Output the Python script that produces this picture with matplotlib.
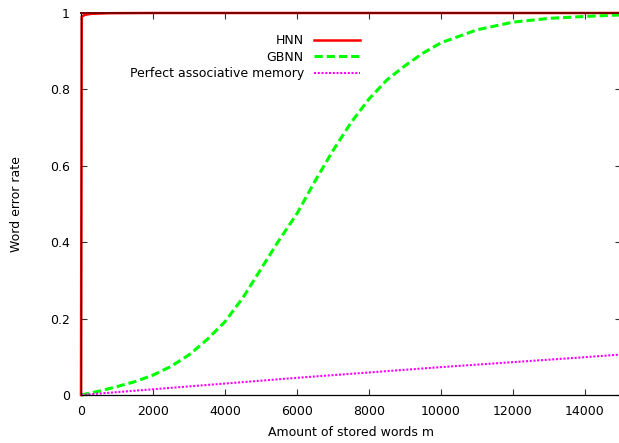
import matplotlib
matplotlib.use("Agg")
import matplotlib.pyplot as plt

# Data
m_hnn = [0, 20, 100, 300, 800, 2000, 15000]
hnn = [0, 0.99, 0.995, 0.998, 0.9995, 1.0, 1.0]

m_gbnn = [0, 500, 1000, 1500, 2000, 2500, 3000, 3500, 4000, 4500, 5000, 5500, 6000,
          6500, 7000, 7500, 8000, 8500, 9000, 9500, 10000, 11000, 12000, 13000, 14000, 15000]
gbnn = [0, 0.01, 0.022, 0.035, 0.052, 0.075, 0.105, 0.145, 0.192, 0.255, 0.33, 0.405, 0.475,
        0.56, 0.64, 0.713, 0.775, 0.825, 0.862, 0.895, 0.922, 0.956, 0.976, 0.986, 0.991, 0.995]

m_perfect = [0, 2000, 4000, 6000, 8000, 10000, 12000, 14000, 15000]
perfect = [0, 0.015, 0.03, 0.045, 0.059, 0.073, 0.086, 0.099, 0.106]

xticks = [0, 2000, 4000, 6000, 8000, 10000, 12000, 14000]
yticks = [0, 0.2, 0.4, 0.6, 0.8, 1]
ytick_labels = ["0", "0.2", "0.4", "0.6", "0.8", "1"]

plt.rcParams['font.family'] = ['DejaVu Sans']
plt.rcParams['font.size'] = 9

W, H = 619, 443
fig = plt.figure(figsize=(W / 100, H / 100), dpi=100)
ax = fig.add_axes([81 / W, (H - 395) / H, (621 - 81) / W, (395 - 13) / H])

ax.plot(m_hnn, hnn, color='#ff0000', lw=1.8, label='HNN', clip_on=False, zorder=2)
ax.plot(m_gbnn, gbnn, color='#00ff00', lw=2.2, linestyle=(0, (2.7, 1.3)), label='GBNN', clip_on=False)
ax.plot(m_perfect, perfect, color='#ff00ff', lw=1.5, linestyle=(0, (1, 0.8)),
        label='Perfect associative memory', clip_on=False)

ax.set_xlim(0, 15000)
ax.set_ylim(0, 1)
ax.set_xticks(xticks)
ax.set_xticklabels([str(t) for t in xticks])
ax.set_yticks(yticks)
ax.set_yticklabels(ytick_labels)
ax.tick_params(direction='in', length=4.5, width=0.8, top=True, right=True, pad=7,
               color='#333333')
ax.tick_params(axis='y', pad=8)
for s in ax.spines.values():
    s.set_linewidth(0.9)
    s.set_zorder(3)
ax.spines['top'].set_color('#7a0000')
ax.spines['top'].set_linewidth(1.4)

ax.set_xlabel('Amount of stored words m', labelpad=6)
ax.set_ylabel('Word error rate', labelpad=19)

leg = ax.legend(loc='upper right', bbox_to_anchor=(360 / W, 1 - 34 / H),
                bbox_transform=fig.transFigure, frameon=False, markerfirst=False,
                borderpad=0, borderaxespad=0, handlelength=3.7, handletextpad=0.8,
                labelspacing=0.3, fontsize=9)

fig.savefig('out.png', dpi=100)
